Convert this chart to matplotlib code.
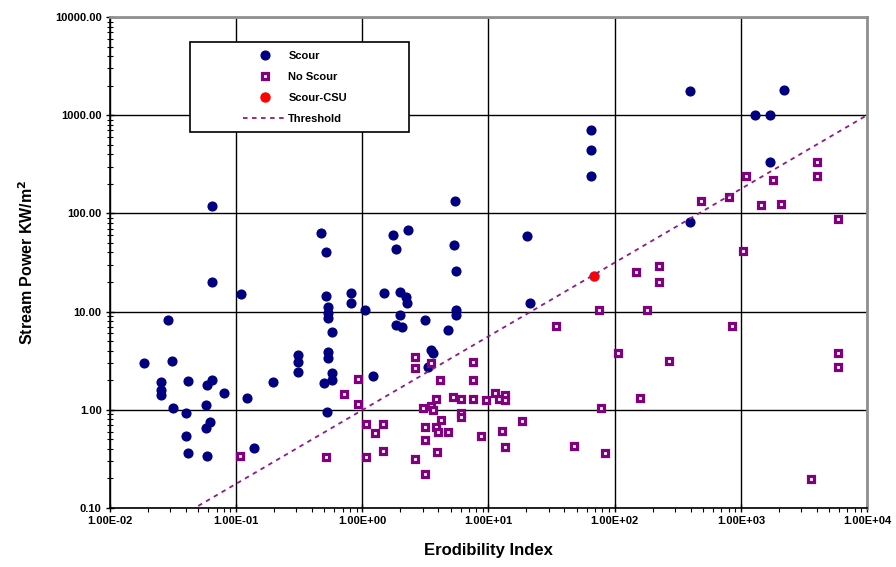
import matplotlib
matplotlib.use('Agg')
import matplotlib.pyplot as plt
from matplotlib.patches import Rectangle
from matplotlib.ticker import FuncFormatter, LogLocator, NullFormatter

plt.rcParams['font.family'] = ['Liberation Sans', 'DejaVu Sans']

# Scour points (erodibility index, stream power)
scour_x = [0.0186, 0.0311, 0.0252, 0.0252, 0.0252, 0.0417, 0.059, 0.064, 0.080, 0.122,
           0.0317, 0.040, 0.058, 0.062, 0.058, 0.040, 0.0417, 0.059, 0.138, 0.0288,
           0.064, 0.064, 0.109, 0.196, 0.31, 0.31, 0.31, 0.534, 0.534, 0.58,
           0.50, 0.57, 0.52, 1.22, 0.513, 0.469, 0.513, 0.82, 0.82, 0.534,
           0.534, 0.534, 0.58, 1.045, 1.49, 1.75, 2.29, 1.84, 1.98, 2.23,
           2.26, 1.98, 1.86, 2.05, 3.12, 4.78, 5.5, 5.5, 5.36, 5.46,
           5.55, 3.52, 3.63, 3.31, 20.1, 21.5, 65.2, 65.2, 65.2, 398,
           2210, 1285, 1710, 1710, 398]
scour_y = [3.02, 3.16, 1.93, 1.59, 1.42, 1.98, 1.79, 2.01, 1.47, 1.31,
           1.04, 0.93, 1.12, 0.757, 0.65, 0.54, 0.36, 0.34, 0.405, 8.3,
           20.2, 120, 15, 1.93, 3.6, 3.1, 2.44, 3.9, 3.34, 2.35,
           1.86, 2.0, 0.94, 2.22, 14.4, 62.7, 40, 15.4, 12.1, 11.2,
           9.6, 8.55, 6.2, 10.4, 15.6, 61, 67.7, 43, 16.0, 14.2,
           12.1, 9.2, 7.3, 7.0, 8.2, 6.5, 10.4, 9.2, 47.6, 134,
           25.9, 4.07, 3.76, 2.75, 59.3, 12.1, 706, 443, 240, 1780,
           1800, 1000, 1000, 331, 81]

# No scour points
noscour_x = [0.107, 0.513, 0.716, 0.925, 0.925, 1.078, 1.25, 1.47, 1.078, 1.47,
             2.6, 2.6, 3.52, 4.1, 7.54, 7.54, 5.23, 6.1, 7.54, 3.81,
             3.03, 3.52, 3.63, 6.1, 6.1, 9.6, 11.2, 12.2, 13.5, 13.5,
             4.23, 3.12, 3.85, 3.98, 4.77, 8.65, 3.12, 12.8, 13.6, 3.9,
             2.6, 3.12, 18.5, 47.2, 84, 78, 160, 107, 272, 5840,
             5840, 34, 851, 75.8, 181, 148, 226, 226, 1033, 484,
             811, 1445, 2100, 1100, 1810, 4010, 4010, 5920, 3600]
noscour_y = [0.34, 0.333, 1.45, 2.06, 1.14, 0.72, 0.575, 0.72, 0.333, 0.38,
             3.47, 2.65, 2.97, 2.0, 3.05, 2.0, 1.34, 1.28, 1.28, 1.28,
             1.04, 1.09, 1.0, 0.92, 0.84, 1.26, 1.47, 1.3, 1.4, 1.25,
             0.79, 0.67, 0.67, 0.6, 0.6, 0.545, 0.49, 0.61, 0.415, 0.374,
             0.313, 0.22, 0.775, 0.43, 0.36, 1.04, 1.31, 3.82, 3.14, 3.82,
             2.71, 7.1, 7.1, 10.4, 10.5, 25.5, 29.1, 20.2, 41.7, 134,
             146, 122, 125, 242, 219, 331, 242, 87.7, 0.197]

# Scour-CSU point
csu_x = [69.2]
csu_y = [23.1]

# threshold line end points
thr_x = [0.05, 10000]
thr_y = [0.105, 1000]

# decade ticks
x_ticks = [1e-2, 1e-1, 1e0, 1e1, 1e2, 1e3, 1e4]
y_ticks = [0.1, 1, 10, 100, 1000, 10000]

fig = plt.figure(figsize=(8.96, 5.67), dpi=100)
ax = fig.add_axes([0.1228, 0.104, 0.8448, 0.866])
ax.set_xscale('log')
ax.set_yscale('log')

ax.set_axisbelow(True)
ax.grid(True, which='major', color='black', linewidth=1.0)

ax.plot(scour_x, scour_y, linestyle='none', marker='o', markersize=6.3,
        color='#000080', label='Scour', zorder=3)
ax.plot(noscour_x, noscour_y, linestyle='none', marker='s', markersize=5,
        markerfacecolor='white', markeredgecolor='#800080', markeredgewidth=2.3,
        label='No Scour', zorder=3)
ax.plot(csu_x, csu_y, linestyle='none', marker='o', markersize=6.5,
        color='#ff0000', label='Scour-CSU', zorder=3)
ax.plot(thr_x, thr_y, linestyle=(0, (2.5, 2.5)), color='#8b1a8b', linewidth=1.3,
        label='Threshold', zorder=3)

# tick formatting
ax.set_xticks(x_ticks)
ax.set_yticks(y_ticks)
ax.xaxis.set_minor_locator(LogLocator(base=10, subs=range(2, 10), numticks=20))
ax.yaxis.set_minor_locator(LogLocator(base=10, subs=range(2, 10), numticks=20))
ax.xaxis.set_minor_formatter(NullFormatter())
ax.yaxis.set_minor_formatter(NullFormatter())
ax.xaxis.set_major_formatter(FuncFormatter(lambda v, p: '{:.2E}'.format(v)))
ax.yaxis.set_major_formatter(FuncFormatter(lambda v, p: '{:.2f}'.format(v)))
ax.set_xlim(1e-2, 1e4)
ax.set_ylim(0.1, 10000)
ax.tick_params(axis='both', which='major', direction='inout', length=6, width=1,
               labelsize=8, pad=3)
ax.tick_params(axis='y', which='minor', direction='inout', length=4, width=0.8)
ax.tick_params(axis='x', which='minor', direction='out', length=3, width=0.8)
for lbl in ax.get_xticklabels() + ax.get_yticklabels():
    lbl.set_fontweight('bold')

for side in ['left', 'bottom']:
    ax.spines[side].set_color('black')
    ax.spines[side].set_linewidth(1.2)
for side in ['top', 'right']:
    ax.spines[side].set_color('#909090')
    ax.spines[side].set_linewidth(2)

ax.set_xlabel('Erodibility Index', fontsize=12, fontweight='bold', labelpad=12)
ax.set_ylabel('Stream Power KW/m$^\\mathbf{2}$', fontsize=11.5, fontweight='bold', labelpad=14)

# legend box
ax.add_patch(Rectangle((0.106, 0.766), 0.289, 0.183, transform=ax.transAxes,
                       facecolor='white', edgecolor='black', linewidth=1.2, zorder=4.9))
leg = ax.legend(loc='upper left', bbox_to_anchor=(0.168, 0.942), frameon=False,
                borderpad=0, handlelength=4.0, handletextpad=0.1, labelspacing=1.0,
                prop={'size': 8, 'weight': 'bold'})
leg.set_zorder(5)

fig.savefig('out.png', dpi=100)
